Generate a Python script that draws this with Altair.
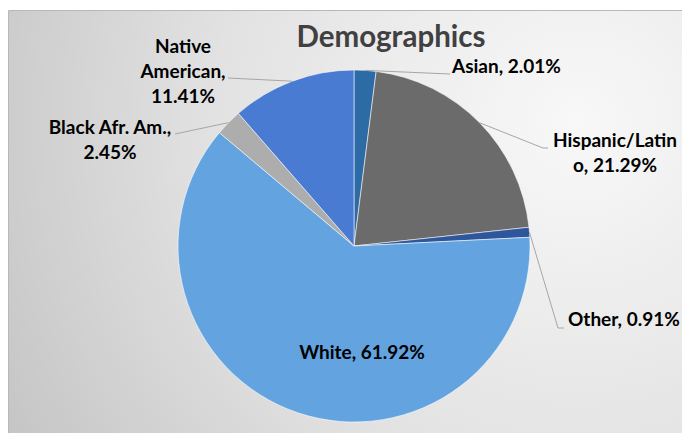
import math
import altair as alt
import pandas as pd

# ---- data ----
categories = ["Asian", "Hispanic/Latino", "Other", "White", "Black Afr. Am.", "Native American"]
shares = [2.01, 21.29, 0.91, 61.92, 2.45, 11.41]
label_texts = ["Asian, 2.01%", "Hispanic/Latin\no, 21.29%", "Other, 0.91%",
               "White, 61.92%", "Black Afr. Am.,\n2.45%", "Native\nAmerican,\n11.41%"]
colors = ["#2d6ba6", "#6b6b6b", "#2f559a", "#63a4e0", "#adadad", "#4a7bd3"]

# ---- layout ----
W, H = 674, 425
CX, CY, R = 346, 238, 176
FONT = "Lato"
# label anchor (x, first-line baseline y, align) and leader-line elbow points
label_layout = {
    "Asian": (444, 65, "left", [(442, 66)]),
    "Hispanic/Latino": (607, 139, "center", [(535, 140), (540, 140)]),
    "Other": (560, 318, "left", [(550, 320), (556, 320)]),
    "White": (354, 351, "center", None),
    "Black Afr. Am.": (102, 126, "center", [(167, 126)]),
    "Native American": (175, 45, "center", [(220, 70)]),
}

df = pd.DataFrame({"category": categories, "share": shares,
                   "order": list(range(len(categories)))})

# leader lines: start on the slice edge at mid-angle
total = sum(shares)
cum = 0.0
line_rows, text_rows = [], []
for cat, s, txt in zip(categories, shares, label_texts):
    mid = (cum + s / 2) / total * 2 * math.pi
    cum += s
    lx, ly, al, pts = label_layout[cat]
    text_rows.append({"text": txt, "x": lx, "y": ly, "align": al})
    if pts:
        sx = CX + R * math.sin(mid)
        sy = CY - R * math.cos(mid)
        seq = [(sx, sy)] + pts
        for i, (px, py) in enumerate(seq):
            line_rows.append({"id": cat, "i": i, "x": px, "y": py})

lines_df = pd.DataFrame(line_rows)
text_df = pd.DataFrame(text_rows)

bg = alt.Chart(alt.Data(values=[{}])).mark_rect(
    fill={"gradient": "radial", "x1": 0.82, "y1": 0.35, "r1": 0,
          "x2": 0.82, "y2": 0.35, "r2": 0.95,
          "stops": [{"offset": 0, "color": "#f8f8f8"},
                    {"offset": 0.55, "color": "#e2e2e2"},
                    {"offset": 1, "color": "#c4c4c4"}]},
    stroke="#b8b8b8", strokeWidth=1
).encode(x=alt.value(0.5), x2=alt.value(W + 20), y=alt.value(2.5), y2=alt.value(H + 10))

shadow1 = alt.Chart(alt.Data(values=[{"v": 1}])).mark_arc(
    radius=R + 2, fill="#000000", fillOpacity=0.04
).encode(theta=alt.Theta("v:Q"), x=alt.value(CX + 6), y=alt.value(CY + 6))
shadow2 = alt.Chart(alt.Data(values=[{"v": 1}])).mark_arc(
    radius=R, fill="#000000", fillOpacity=0.07
).encode(theta=alt.Theta("v:Q"), x=alt.value(CX + 3), y=alt.value(CY + 3))

pie = alt.Chart(df).mark_arc(
    radius=R, stroke="#ffffff", strokeOpacity=0.55, strokeWidth=1
).encode(
    theta=alt.Theta("share:Q", stack=True),
    order=alt.Order("order:Q"),
    color=alt.Color("category:N", scale=alt.Scale(domain=categories, range=colors), legend=None),
    x=alt.value(CX), y=alt.value(CY),
)

leaders = alt.Chart(lines_df).mark_line(color="#a6a6a6", strokeWidth=1).encode(
    x=alt.X("x:Q", scale=None, axis=None),
    y=alt.Y("y:Q", scale=None, axis=None),
    detail="id:N",
    order="i:Q",
)


def label_layer(align):
    return alt.Chart(text_df).transform_filter(alt.datum.align == align).mark_text(
        font=FONT, fontSize=19, fontWeight="bold", color="#000000",
        baseline="alphabetic", align=align, lineBreak="\n", lineHeight=25
    ).encode(
        x=alt.X("x:Q", scale=None, axis=None),
        y=alt.Y("y:Q", scale=None, axis=None),
        text="text:N",
    )


labels_c = label_layer("center")
labels_l = label_layer("left")

title = alt.Chart(alt.Data(values=[{"t": "Demographics"}])).mark_text(
    font=FONT, fontSize=29.5, fontWeight="bold", color="#404040",
    baseline="alphabetic", align="center"
).encode(x=alt.value(383), y=alt.value(39), text="t:N")

chart = alt.layer(bg, shadow1, shadow2, pie, leaders, labels_c, labels_l, title).properties(
    width=W, height=H, padding=0,
    autosize=alt.AutoSizeParams(type="fit", contains="padding"),
    background="#ffffff",
).configure_view(stroke=None)

chart.save("out.html", embed_options={"renderer": "svg", "actions": False})
